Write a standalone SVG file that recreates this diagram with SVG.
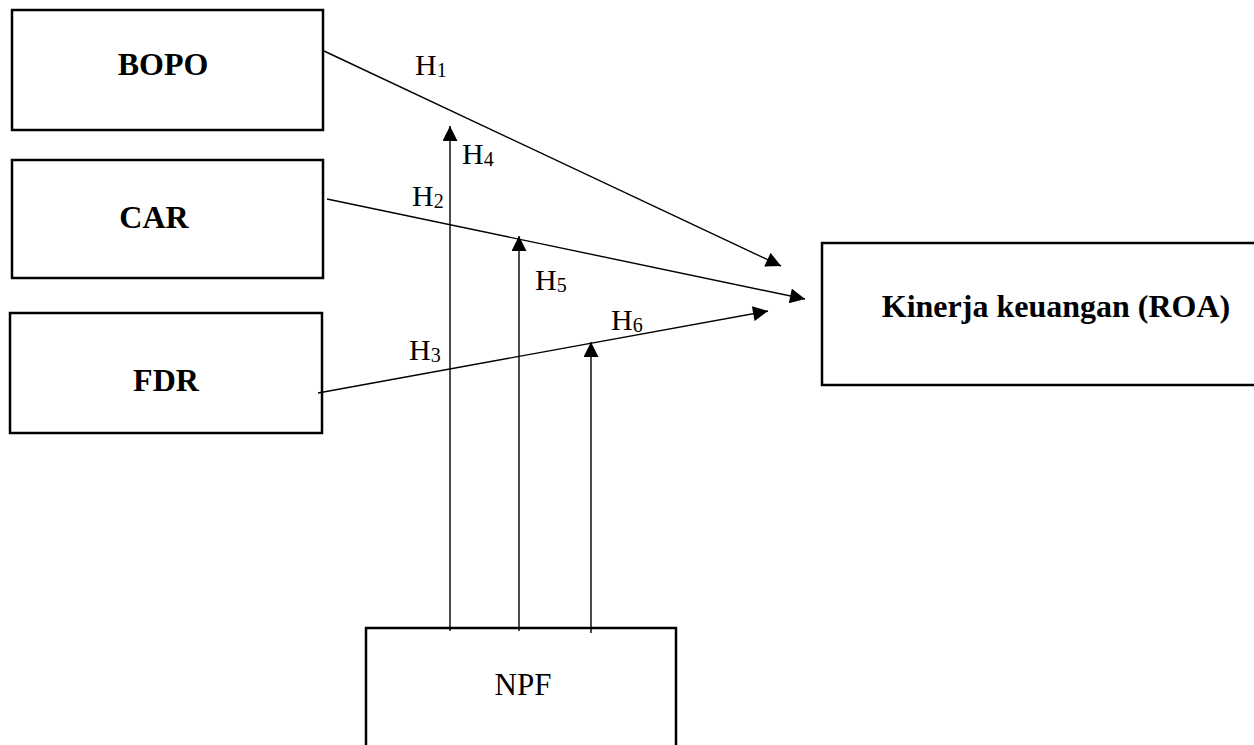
<svg xmlns="http://www.w3.org/2000/svg" width="1254" height="745" viewBox="0 0 1254 745">
<style>
.box{fill:#fff;stroke:#000;stroke-width:2.5}
.lbl{font-family:"Liberation Serif","Times New Roman",serif;font-size:32px;font-weight:bold;fill:#000;text-anchor:middle}
.npf{font-family:"Liberation Serif","Times New Roman",serif;font-size:31px;fill:#000;text-anchor:middle}
.h{font-family:"Liberation Serif","Times New Roman",serif;font-size:30px;fill:#000}
.sub{font-size:20px}
.c{stroke:#000;stroke-width:1.4;fill:none;marker-end:url(#ah)}
</style>
<defs>
<marker id="ah" viewBox="0 0 10 10" refX="10" refY="5" markerWidth="16" markerHeight="15" markerUnits="userSpaceOnUse" orient="auto">
<path d="M0,0 L10,5 L0,10 Z" fill="#000"/>
</marker>
</defs>
<rect width="1254" height="745" fill="#fff"/>
<g id="bopo"><rect class="box" x="12" y="10" width="311" height="120"/><text class="lbl" x="163" y="75">BOPO</text></g>
<g id="car"><rect class="box" x="12" y="160" width="311" height="118"/><text class="lbl" x="154" y="228">CAR</text></g>
<g id="fdr"><rect class="box" x="10" y="313" width="312" height="120"/><text class="lbl" x="166" y="391">FDR</text></g>
<g id="roa"><rect class="box" x="822" y="243" width="450" height="142"/><text class="lbl" x="1056" y="317">Kinerja keuangan (ROA)</text></g>
<g id="npf"><rect class="box" x="366" y="628" width="310" height="140"/><text class="npf" x="523" y="695">NPF</text></g>
<g id="connectors">
<line class="c" x1="324" y1="51" x2="781" y2="266"/>
<line class="c" x1="327" y1="199" x2="805" y2="299"/>
<line class="c" x1="318" y1="393" x2="768" y2="311"/>
<line class="c" x1="450" y1="631" x2="450" y2="126"/>
<line class="c" x1="519" y1="631" x2="519" y2="236"/>
<line class="c" x1="591" y1="633" x2="591" y2="342"/>
</g>
<g id="labels">
<text class="h" x="415" y="75">H<tspan class="sub" dy="2">1</tspan></text>
<text class="h" x="412" y="206">H<tspan class="sub" dy="2">2</tspan></text>
<text class="h" x="409" y="360">H<tspan class="sub" dy="2">3</tspan></text>
<text class="h" x="462" y="164">H<tspan class="sub" dy="2">4</tspan></text>
<text class="h" x="535" y="290">H<tspan class="sub" dy="2">5</tspan></text>
<text class="h" x="611" y="330">H<tspan class="sub" dy="2">6</tspan></text>
</g>
</svg>
